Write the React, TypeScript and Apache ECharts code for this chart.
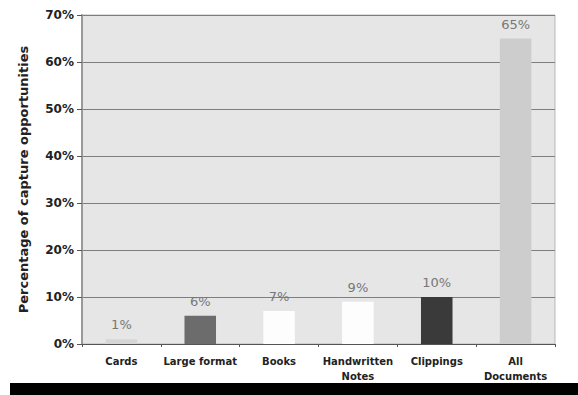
import React, { useEffect, useRef } from "react";
import * as echarts from "echarts";

const categories = ["Cards", "Large format", "Books", "Handwritten\nNotes", "Clippings", "All\nDocuments"];
const values = [1, 6, 7, 9, 10, 65];
const barColors = ["#d6d6d6", "#6c6c6c", "#fdfdfd", "#fdfdfd", "#3a3a3a", "#cdcdcd"];
const yAxisTitle = "Percentage of capture opportunities";

export default function App() {
  const ref = useRef<HTMLDivElement>(null);
  useEffect(() => {
    if (!ref.current) return;
    const chart = echarts.init(ref.current, undefined, { renderer: "svg" });
    chart.setOption({
      animation: false,
      backgroundColor: "#ffffff",
      textStyle: { fontFamily: "DejaVu Sans" },
      grid: {
        left: 82,
        right: 23,
        top: 15,
        bottom: 51,
        show: true,
        backgroundColor: "#e6e6e6",
        borderColor: "#b8b8b8",
        borderWidth: 1,
      },
      graphic: [
        { type: "rect", shape: { x: 10, y: 383, width: 568, height: 12 }, style: { fill: "#000" } },
      ],
      xAxis: {
        type: "category",
        data: categories,
        axisLine: { lineStyle: { color: "#555", width: 1 } },
        axisTick: { show: true, length: 3, lineStyle: { color: "#555" } },
        axisLabel: {
          color: "#222",
          fontSize: 10,
          fontWeight: "bold",
          lineHeight: 15,
          margin: 10,
          interval: 0,
        },
      },
      yAxis: {
        type: "value",
        min: 0,
        max: 70,
        interval: 10,
        name: yAxisTitle,
        nameLocation: "middle",
        nameRotate: 90,
        nameGap: 52,
        nameTextStyle: { color: "#222", fontSize: 13, fontWeight: "bold" },
        axisLine: { show: true, lineStyle: { color: "#999", width: 2 } },
        axisTick: { show: true, length: 5, lineStyle: { color: "#555" } },
        axisLabel: { color: "#222", fontSize: 12, fontWeight: "bold", formatter: "{value}%", margin: 8 },
        splitLine: { show: true, lineStyle: { color: "#7e7e7e", width: 1 } },
      },
      series: [
        {
          type: "bar",
          data: values.map((v, i) => ({ value: v, itemStyle: { color: barColors[i] } })),
          barWidth: "40%",
          label: {
            show: true,
            position: "top",
            distance: 8,
            color: "#777",
            fontSize: 13,
            formatter: "{c}%",
          },
        },
      ],
    });
    return () => chart.dispose();
  }, []);
  return <div ref={ref} style={{ width: 578, height: 395, position: "absolute", left: 0, top: 0 }} />;
}
